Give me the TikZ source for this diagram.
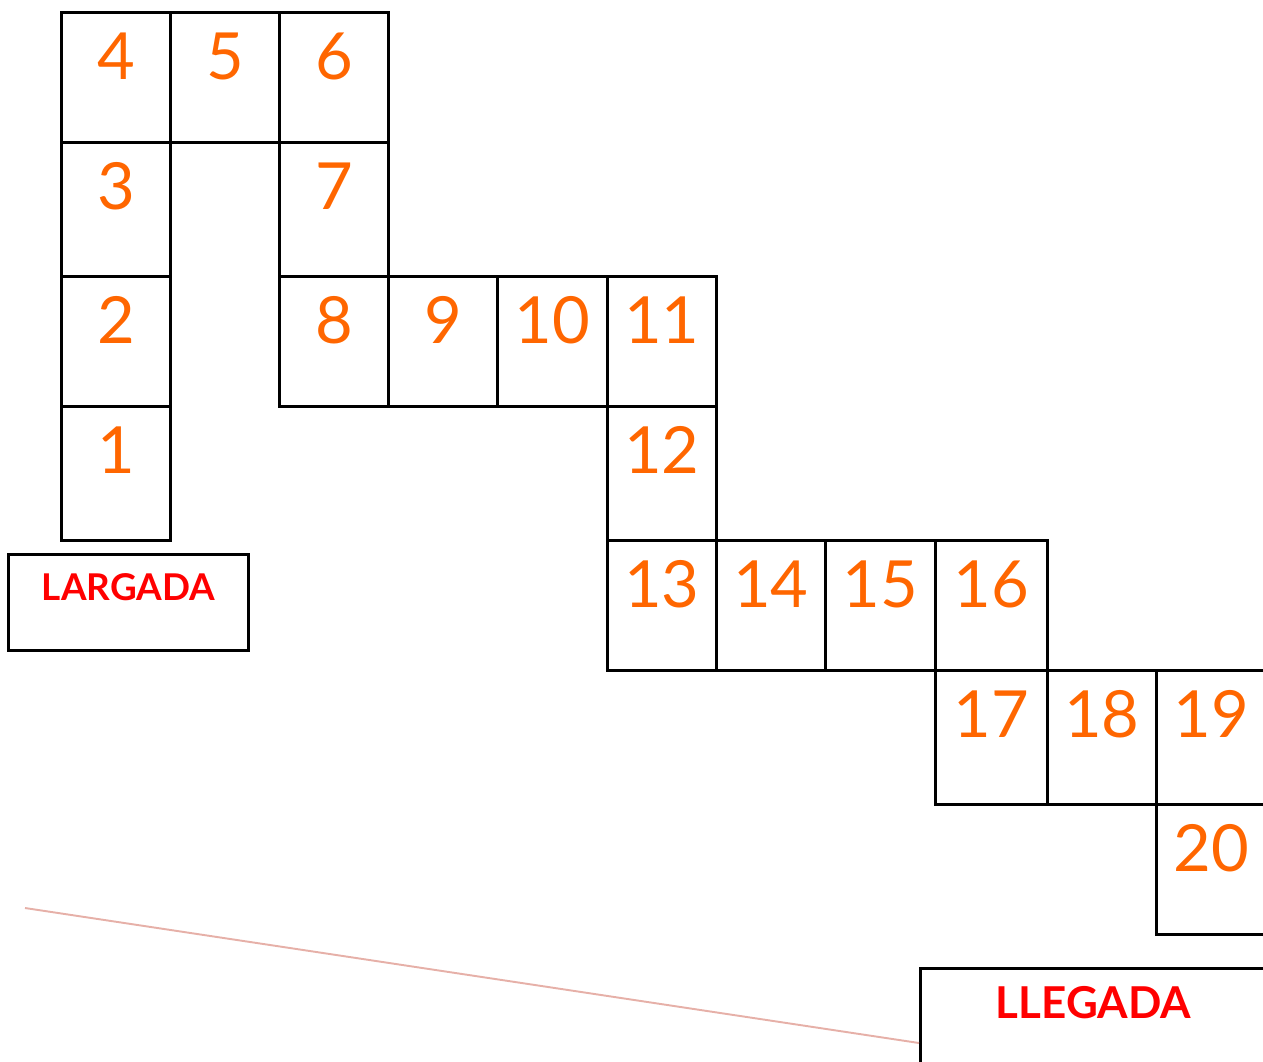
\documentclass[tikz,border=0pt]{standalone}
\usepackage{fontspec}
\setmainfont{Lato}
\usepackage{tikz}
\usetikzlibrary{positioning}
\definecolor{numorange}{HTML}{FF6600}
\definecolor{labelred}{HTML}{FF0000}
\definecolor{trackpink}{HTML}{E6B0A8}

\begin{document}
\begin{tikzpicture}[x=0.02cm, y=-0.02cm,
 sq/.style={draw=black, line width=1.6pt, inner sep=0pt, anchor=north west},
 num/.style={text=numorange, font=\fontsize{37}{40}\selectfont, inner sep=0pt},
 endbox/.style={draw=black, line width=1.6pt, inner sep=0pt, anchor=north west},
 endtext/.style={text=labelred, inner sep=0pt}]
\useasboundingbox (0,0) rectangle (1263,1061);
\clip (0,0) rectangle (1263,1061);

% board squares: number/x/y/width/height (px)
\foreach \n/\x/\y/\w/\h in {4/60/11/109/130, 5/169/11/109/130, 6/278/11/109/130,
  3/60/141/109/134, 7/278/141/109/134,
  2/60/275/109/130, 8/278/275/109/130, 9/387/275/109/130, 10/496/275/110/130, 11/606/275/109/130,
  1/60/405/109/134, 12/606/405/109/134,
  13/606/539/109/130, 14/715/539/109/130, 15/824/539/110/130, 16/934/539/112/130,
  17/934/669/112/134, 18/1046/669/109/134, 19/1155/669/110/134,
  20/1155/803/110/130}
  {\node[sq, minimum width=\w*0.02cm, minimum height=\h*0.02cm](sq\n) at (\x,\y){};
   \node[num](n\n) at ([yshift=-0.9cm]sq\n.north){\n};}

\node[endbox, minimum width=4.8cm, minimum height=1.92cm](start) at (7,553){};
\node[endtext, font=\bfseries\fontsize{21}{24}\selectfont](starttxt) at ([yshift=-0.68cm]start.north){LARGADA};

\node[endbox, minimum width=6.92cm, minimum height=1.96cm](goal) at (919,967){};
\node[endtext, font=\bfseries\fontsize{25}{27}\selectfont](goaltxt) at ([yshift=-0.72cm]goal.north){LLEGADA};

\coordinate (t1) at (25,908);
\coordinate (t2) at (919,1043);
\draw[trackpink, line width=1.1pt](t1)--(t2);

\end{tikzpicture}
\end{document}
